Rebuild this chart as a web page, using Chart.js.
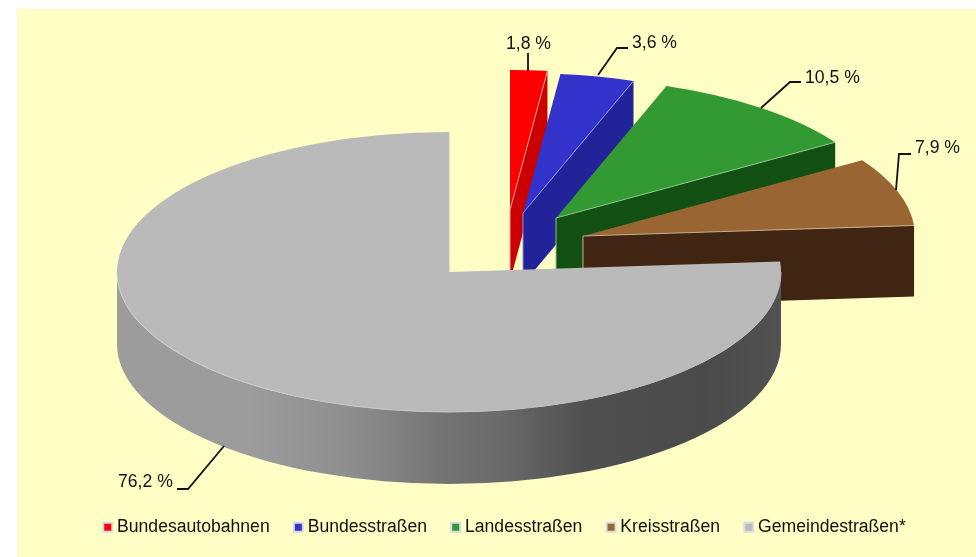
<!DOCTYPE html>
<html><head><meta charset="utf-8">
<script src="https://cdn.jsdelivr.net/npm/chart.js@4"></script>
<style>
html,body{margin:0;padding:0;background:#fff;overflow:hidden;width:976px;height:557px}
#bg{position:absolute;left:17px;top:9px;right:0;bottom:0;background:#FFFFC5}
canvas{position:absolute;left:0;top:0}
</style></head><body>
<div id="bg"></div>
<canvas id="c" width="976" height="557"></canvas>
<script>
const categories = ['Bundesautobahnen','Bundesstraßen','Landesstraßen','Kreisstraßen','Gemeindestraßen*'];
const shares = [1.8,3.6,10.5,7.9,76.2];
const topColors = ['#FF0000','#3333CC','#339933','#996633','#BABABA'];
const wallColors = ['#CC0000','#222299','#124F12','#402612','#808080'];
const edgeColors = ['#FF9C9C','#8C8CE6','#8CC08C','#C8AC90','#C2C2C2'];
const explodeX = [61,74,107,134,0];
const explodeY = [-62,-59,-54,-36,0];
const leaderLines = [
  [[528,53],[528,71]],
  [[598,75],[617,48],[628,48]],
  [[761,108],[790,82],[801,82]],
  [[896,190],[899,154],[911,154]],
  [[224,446],[188,489],[177,489]]
];
const labelSpots = [[506,44],[632,43],[805,78],[915,148],[118,482]];
const PIE = {cx:449,cy:272,rx:332,ry:140,depth:71,frontDepth:72};
const FONT = '"Liberation Sans", Arial, sans-serif';

const pie3d = {
  id:'pie3d',
  beforeDatasetDraw(chart,args){
    const ctx = chart.ctx;
    const arcs = chart.getDatasetMeta(args.index).data;
    arcs.forEach((arc,i)=>{
      const cx = PIE.cx+explodeX[i], cy = PIE.cy+explodeY[i];
      const sx = PIE.rx/arc.outerRadius, sy = PIE.ry/arc.outerRadius;
      const ex = cx+PIE.rx*Math.cos(arc.endAngle), ey = cy+PIE.ry*Math.sin(arc.endAngle);
      const last = i === arcs.length-1;
      ctx.save();
      if(!last){
        ctx.fillStyle = wallColors[i];
        ctx.beginPath();
        ctx.moveTo(cx,cy); ctx.lineTo(ex,ey);
        ctx.lineTo(ex,ey+PIE.depth); ctx.lineTo(cx,cy+PIE.depth);
        ctx.closePath(); ctx.fill();
      } else {
        const g = ctx.createLinearGradient(cx-PIE.rx,0,cx+PIE.rx,0);
        g.addColorStop(0,'#9C9C9C');
        g.addColorStop(0.2,'#9C9C9C');
        g.addColorStop(0.35,'#8E8E8E');
        g.addColorStop(0.488,'#747474');
        g.addColorStop(0.58,'#6A6A6A');
        g.addColorStop(0.7,'#505050');
        g.addColorStop(0.88,'#4A4A4A');
        g.addColorStop(1,'#525252');
        ctx.fillStyle = g;
        ctx.beginPath();
        ctx.ellipse(cx,cy,PIE.rx,PIE.ry,0,0,Math.PI);
        ctx.lineTo(cx-PIE.rx,cy+PIE.frontDepth);
        ctx.ellipse(cx,cy+PIE.frontDepth,PIE.rx,PIE.ry,0,Math.PI,0,true);
        ctx.closePath(); ctx.fill();
      }
      ctx.save();
      ctx.translate(cx,cy); ctx.scale(sx,sy); ctx.translate(-arc.x,-arc.y);
      arc.draw(ctx);
      ctx.restore();
      ctx.strokeStyle = edgeColors[i]; ctx.lineWidth = 1;
      ctx.beginPath();
      ctx.moveTo(ex,ey); ctx.lineTo(cx,cy);
      if(!last) ctx.lineTo(cx,cy+PIE.depth);
      ctx.stroke();
      if(last){
        const rim = ctx.createLinearGradient(cx-PIE.rx,0,cx+PIE.rx,0);
        rim.addColorStop(0,'#D0D0D0');
        rim.addColorStop(0.5,'#C4C4C4');
        rim.addColorStop(0.75,'#BABABA');
        ctx.strokeStyle = rim;
        ctx.beginPath(); ctx.ellipse(cx,cy,PIE.rx,PIE.ry,0,0,Math.PI); ctx.stroke();
      }
      ctx.restore();
    });
    return false;
  },
  afterDatasetsDraw(chart){
    const ctx = chart.ctx;
    ctx.save();
    ctx.strokeStyle='#111'; ctx.lineWidth=1.8; ctx.lineJoin='miter';
    leaderLines.forEach(l=>{
      ctx.beginPath();
      l.forEach((p,k)=> k?ctx.lineTo(p[0],p[1]):ctx.moveTo(p[0],p[1]));
      ctx.stroke();
    });
    ctx.fillStyle='#111'; ctx.font='17.6px '+FONT; ctx.textBaseline='middle'; ctx.textAlign='left';
    shares.forEach((v,i)=>{
      ctx.fillText(v.toFixed(1).replace('.',',')+' %',labelSpots[i][0],labelSpots[i][1]);
    });
    ctx.restore();
  }
};

new Chart(document.getElementById('c'),{
  type:'pie',
  data:{labels:categories,datasets:[{data:shares,backgroundColor:topColors,borderWidth:0}]},
  options:{
    responsive:false,animation:false,
    layout:{padding:{left:37,right:0,top:0,bottom:11}},
    plugins:{
      tooltip:{enabled:false},
      legend:{
        display:true,position:'bottom',
        labels:{
          usePointStyle:true,boxWidth:1,boxHeight:9,padding:28.2,
          color:'#111',font:{family:FONT,size:17.6},
          generateLabels(chart){
            return categories.map((t,i)=>({text:t,fillStyle:topColors[i],strokeStyle:'#D9DAE4',lineWidth:2,pointStyle:'rect',hidden:false,index:i,fontColor:'#111'}));
          }
        }
      }
    }
  },
  plugins:[pie3d]
});
</script>
</body></html>
